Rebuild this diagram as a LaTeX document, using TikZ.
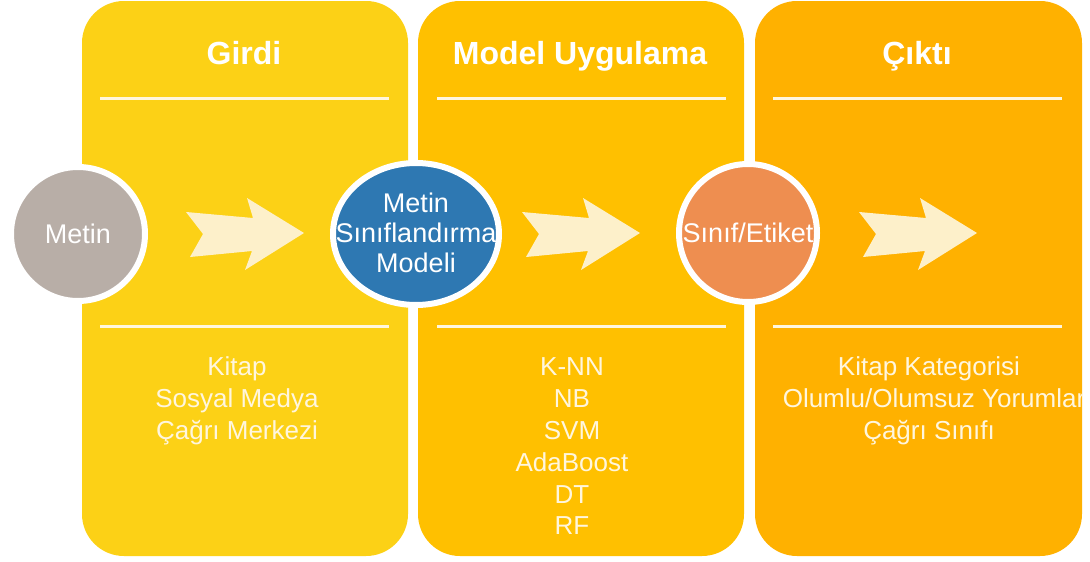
\documentclass[tikz,border=0pt]{standalone}
\usepackage{fontspec}
\setmainfont{Liberation Sans}
\usetikzlibrary{shapes.geometric}

\definecolor{panelA}{HTML}{FCD116}
\definecolor{panelB}{HTML}{FFC000}
\definecolor{panelC}{HTML}{FFB100}
\definecolor{stone}{HTML}{B8AEA7}
\definecolor{modelblue}{HTML}{2E78B2}
\definecolor{labelorange}{HTML}{EE8E50}
\definecolor{cream}{HTML}{FDF0CA}
\definecolor{softwhite}{HTML}{FFF6DE}

\begin{document}
\begin{tikzpicture}[x=1pt,y=-1pt,
  panel/.style={rounded corners=42pt},
  rule/.style={draw=softwhite,line width=3pt},
  title/.style={text=white,font=\fontsize{32}{32}\selectfont\bfseries,anchor=base,inner sep=0pt},
  item/.style={text=softwhite,font=\fontsize{26}{26}\selectfont,anchor=base,inner sep=0pt},
  disc/.style={draw=white,line width=6pt,text=white,inner sep=0pt,font=\fontsize{27}{27}\selectfont},
  pics/chevron/.style={code={
    \fill[cream] (-118,-21) -- (-51,-15) -- (-57,-35) -- (0,0) -- (-59,37)
      -- (-52,18) -- (-114,24) -- (-101,1) -- cycle;}}
]
\fill[white] (0,0) rectangle (1090,562);
\useasboundingbox (0,0) rectangle (1090,562);

% three stage panels
\fill[panelA,panel] (82,1) rectangle (408,556);
\fill[panelB,panel] (418,1) rectangle (744,556);
\fill[panelC,panel] (755,1) rectangle (1082,556);

% separator rules
\foreach \a/\b in {100/389,437/726,773/1062}{
  \draw[rule] (\a,98) -- (\b,98);
  \draw[rule] (\a,326) -- (\b,326);
}

% headings
\node[title] (hIn)  at (244,64) {Girdi};
\node[title] (hMod) at (580,64) {Model Uygulama};
\node[title] (hOut) at (917,64) {Çıktı};

% flow arrows
\pic at (304,233) {chevron};
\pic at (640,233) {chevron};
\pic at (977,233) {chevron};

% stage nodes
\node[disc,circle,fill=stone,minimum size=134pt] (text) at (78,234) {Metin};
\node[disc,ellipse,fill=modelblue,minimum width=166pt,minimum height=142pt] (model) at (416,234) {};
\node[text=white,inner sep=0pt,align=center,font=\fontsize{27}{30}\selectfont] (modeltext) at (416,233) {Metin\\Sınıflandırma\\Modeli};
\node[disc,circle,fill=labelorange,minimum size=138pt] (label) at (748,233) {Sınıf/Etiket};

% input sources
\node[item] (in1) at (237,375) {Kitap};
\node[item] (in2) at (237,407) {Sosyal Medya};
\node[item] (in3) at (237,439) {Çağrı Merkezi};

% classifiers
\node[item] (m1) at (572,375) {K-NN};
\node[item] (m2) at (572,407) {NB};
\node[item] (m3) at (572,439) {SVM};
\node[item] (m4) at (572,471) {AdaBoost};
\node[item] (m5) at (572,503) {DT};
\node[item] (m6) at (572,534) {RF};

% outputs, cut off at the panel edge
\begin{scope}
  \clip[panel] (755,1) rectangle (1082,556);
  \node[item] (o1) at (929,375) {Kitap Kategorisi};
  \node[item] (o2) at (934,407) {Olumlu/Olumsuz Yorumlar};
  \node[item] (o3) at (929,439) {Çağrı Sınıfı};
\end{scope}
\end{tikzpicture}
\end{document}
